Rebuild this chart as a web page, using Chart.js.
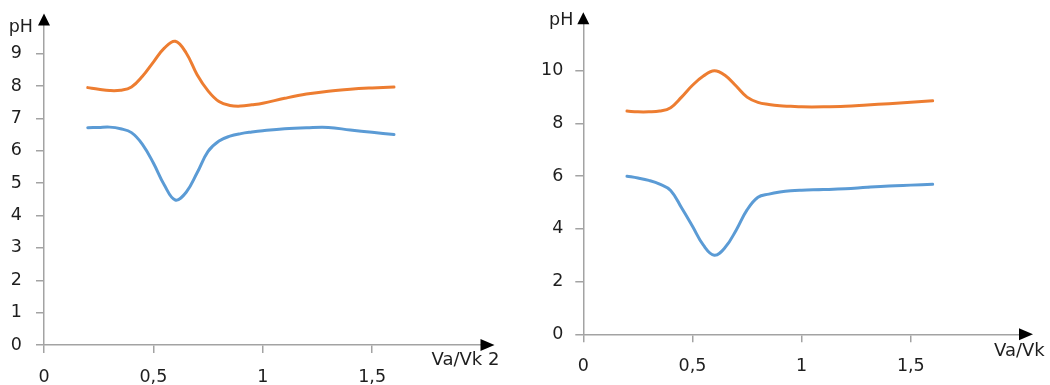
<!DOCTYPE html>
<html>
<head>
<meta charset="utf-8">
<script src="https://cdn.jsdelivr.net/npm/chart.js@4.4.1/dist/chart.umd.min.js"></script>
<style>
  html, body { margin: 0; padding: 0; background: #fff; }
  #wrap { position: relative; width: 1050px; height: 385px; overflow: hidden; }
  canvas { position: absolute; top: 0; }
  #c1 { left: 0; }
  #c2 { left: 525px; }
</style>
</head>
<body>
<div id="wrap">
  <canvas id="c1" width="525" height="385"></canvas>
  <canvas id="c2" width="525" height="385"></canvas>
</div>
<script>
// Va/Vk sample points shared by all curves
const ratio = [0.2, 0.25, 0.3, 0.35, 0.4, 0.45, 0.5, 0.55, 0.6, 0.65, 0.7, 0.75, 0.8, 0.85, 0.9, 0.95, 1.0, 1.1, 1.2, 1.3, 1.4, 1.5, 1.6];

// left panel pH curves
const leftUpper = [7.95, 7.9, 7.86, 7.87, 7.97, 8.3, 8.74, 9.17, 9.38, 9.02, 8.35, 7.85, 7.52, 7.4, 7.38, 7.42, 7.47, 7.62, 7.75, 7.84, 7.9, 7.94, 7.97];
const leftLower = [6.71, 6.72, 6.73, 6.68, 6.56, 6.2, 5.62, 4.94, 4.48, 4.72, 5.32, 5.98, 6.3, 6.45, 6.53, 6.58, 6.62, 6.68, 6.71, 6.72, 6.64, 6.57, 6.5];

// right panel pH curves
const rightUpper = [8.47, 8.44, 8.44, 8.47, 8.6, 9.0, 9.45, 9.8, 10.0, 9.82, 9.42, 9.0, 8.8, 8.72, 8.67, 8.65, 8.63, 8.63, 8.65, 8.7, 8.75, 8.8, 8.86];
const rightLower = [6.0, 5.93, 5.84, 5.7, 5.46, 4.8, 4.1, 3.38, 3.0, 3.3, 3.95, 4.72, 5.2, 5.32, 5.4, 5.45, 5.47, 5.49, 5.52, 5.58, 5.63, 5.66, 5.69];

// tick labels
const xTicks = [0, 0.5, 1, 1.5];
const yTicksLeft = [0, 1, 2, 3, 4, 5, 6, 7, 8, 9];
const yTicksRight = [0, 2, 4, 6, 8, 10];

const ORANGE = '#ED7D31';
const BLUE = '#5B9BD5';
const AXIS = '#a3a3a3';
const TEXT = '#1e1e1e';
const FONT = "'DejaVu Sans', Verdana, sans-serif";

Chart.defaults.font.family = FONT;
Chart.defaults.font.size = 17.5;
Chart.defaults.color = TEXT;

const pts = (xs, ys) => xs.map((x, i) => ({ x: x, y: ys[i] }));
const fmt = v => String(v).replace('.', ',');

// arrow heads on both axes plus the axis captions
const axisDecor = {
  id: 'axisDecor',
  afterDraw(chart, args, o) {
    const { ctx, chartArea: a } = chart;
    ctx.save();
    ctx.fillStyle = '#000';
    ctx.beginPath();
    ctx.moveTo(a.left, a.top - o.upH);
    ctx.lineTo(a.left - 6, a.top + 1);
    ctx.lineTo(a.left + 6, a.top + 1);
    ctx.closePath();
    ctx.fill();
    ctx.beginPath();
    ctx.moveTo(a.right + 13, a.bottom);
    ctx.lineTo(a.right - 1, a.bottom - 6);
    ctx.lineTo(a.right - 1, a.bottom + 6);
    ctx.closePath();
    ctx.fill();

    ctx.fillStyle = TEXT;
    ctx.font = '17.5px ' + FONT;
    ctx.textAlign = 'right';
    ctx.textBaseline = 'alphabetic';
    ctx.fillText('pH', a.left - o.yTitleDx, a.top + o.yTitleDy);
    ctx.font = '18px ' + FONT;
    ctx.textAlign = 'left';
    ctx.textBaseline = 'middle';
    ctx.fillText(o.xTitle, a.right + o.xTitleDx, a.bottom + o.xTitleDy);
    ctx.restore();
  }
};

function makeChart(id, upper, lower, yMax, yTicks, cfg) {
  return new Chart(document.getElementById(id), {
    type: 'line',
    data: {
      datasets: [
        { data: pts(ratio, upper), borderColor: ORANGE },
        { data: pts(ratio, lower), borderColor: BLUE }
      ]
    },
    options: {
      responsive: false,
      animation: false,
      layout: { padding: cfg.padding },
      elements: {
        line: { borderWidth: 3, tension: 0.4, fill: false, borderCapStyle: 'round', borderJoinStyle: 'round' },
        point: { radius: 0, hoverRadius: 0 }
      },
      plugins: {
        legend: { display: false },
        tooltip: { enabled: false },
        axisDecor: cfg.decor
      },
      scales: {
        x: {
          type: 'linear',
          min: 0,
          max: 2,
          afterBuildTicks: s => { s.ticks = xTicks.map(v => ({ value: v })); },
          afterFit: s => { s.height = cfg.xHeight; },
          ticks: { callback: v => fmt(v), padding: cfg.xPad, maxRotation: 0, autoSkip: false },
          grid: { drawOnChartArea: false, tickLength: 8, color: AXIS, lineWidth: 1.5 },
          border: { display: true, color: AXIS, width: 1.5 }
        },
        y: {
          type: 'linear',
          min: 0,
          max: yMax,
          afterBuildTicks: s => { s.ticks = yTicks.map(v => ({ value: v })); },
          afterFit: s => { s.width = cfg.yWidth; },
          ticks: { callback: v => fmt(v), padding: cfg.yPad, autoSkip: false },
          grid: { drawOnChartArea: false, tickLength: 8, color: AXIS, lineWidth: 1.5 },
          border: { display: true, color: AXIS, width: 1.5 }
        }
      }
    },
    plugins: [axisDecor]
  });
}

makeChart('c1', leftUpper, leftLower, 9.9, yTicksLeft, {
  padding: { left: 0, right: 43.5, top: 24, bottom: 0 },
  yWidth: 44, xHeight: 40, xPad: 14, yPad: 14,
  decor: { upH: 11, yTitleDx: 11, yTitleDy: 7, xTitle: 'Va/Vk 2', xTitleDx: -50, xTitleDy: 15 }
});

makeChart('c2', rightUpper, rightLower, 11.8, yTicksRight, {
  padding: { left: 0, right: 30, top: 23.3, bottom: 0 },
  yWidth: 58.3, xHeight: 50.7, xPad: 14, yPad: 12,
  decor: { upH: 11, yTitleDx: 10, yTitleDy: 2, xTitle: 'Va/Vk', xTitleDx: -26, xTitleDy: 17 }
});
</script>
</body>
</html>
